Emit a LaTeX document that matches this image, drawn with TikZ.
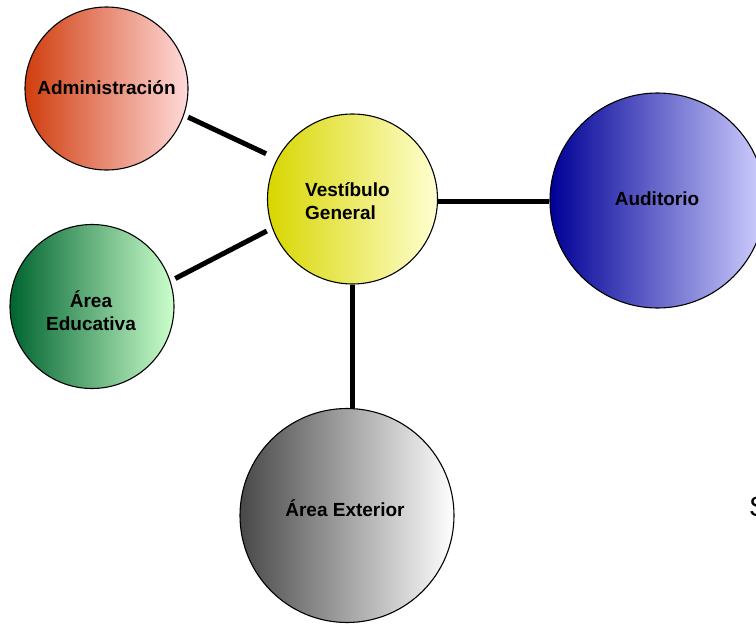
\documentclass[tikz,border=0pt]{standalone}
\usepackage{fontspec}
\setmainfont{Liberation Sans}
\definecolor{admL}{RGB}{208,62,14}
\definecolor{admR}{RGB}{255,218,218}
\definecolor{vesL}{RGB}{216,214,0}
\definecolor{vesR}{RGB}{255,255,210}
\definecolor{audL}{RGB}{0,0,150}
\definecolor{audR}{RGB}{208,208,255}
\definecolor{eduL}{RGB}{0,100,48}
\definecolor{eduR}{RGB}{204,255,204}
\definecolor{extL}{RGB}{72,72,72}
\definecolor{extR}{RGB}{255,255,255}
\begin{document}
\begin{tikzpicture}[x=1pt,y=-1pt,
  room/.style={circle,draw=black,line width=1.1pt,inner sep=0pt},
  lbl/.style={inner sep=0pt,font=\fontsize{19}{23}\selectfont\bfseries,text=black},
  conn/.style={line width=5pt,black}]
\useasboundingbox (0,0) rectangle (756,624);
\node[room,minimum size=163pt,left color=admL,right color=admR] (adm) at (106.5,88.5) {};
\node[room,minimum size=170pt,left color=vesL,right color=vesR] (vest) at (352.5,199) {};
\node[room,minimum size=215pt,left color=audL,right color=audR] (aud) at (657.5,200.5) {};
\node[room,minimum size=164pt,left color=eduL,right color=eduR] (edu) at (92,306.5) {};
\node[room,minimum size=214pt,left color=extL,right color=extR] (ext) at (347,515.5) {};
\node[lbl,anchor=base] (admT) at (106.5,94) {Administración};
\node[lbl,anchor=base west,align=left] (vestT) at (305,219) {Vestíbulo\\General};
\node[lbl,anchor=base] (audT) at (657,205) {Auditorio};
\node[lbl,anchor=base,align=center] (eduT) at (91,330.7) {Área\\Educativa};
\node[lbl,anchor=base] (extT) at (345,516) {Área Exterior};
\node[anchor=base west,inner sep=0pt,font=\fontsize{28}{30}\selectfont] (s) at (749,516) {S};
\draw[conn,shorten <=4.5pt,shorten >=12pt] (adm.-19) -- (vest.152);
\draw[conn,shorten <=5.4pt,shorten >=6pt] (edu.18) -- (vest.200);
\draw[conn] (vest.-2) -- (vest.-2 -| aud.west);
\draw[conn] (vest.south) -- (vest.south |- ext.north);
\end{tikzpicture}
\end{document}
